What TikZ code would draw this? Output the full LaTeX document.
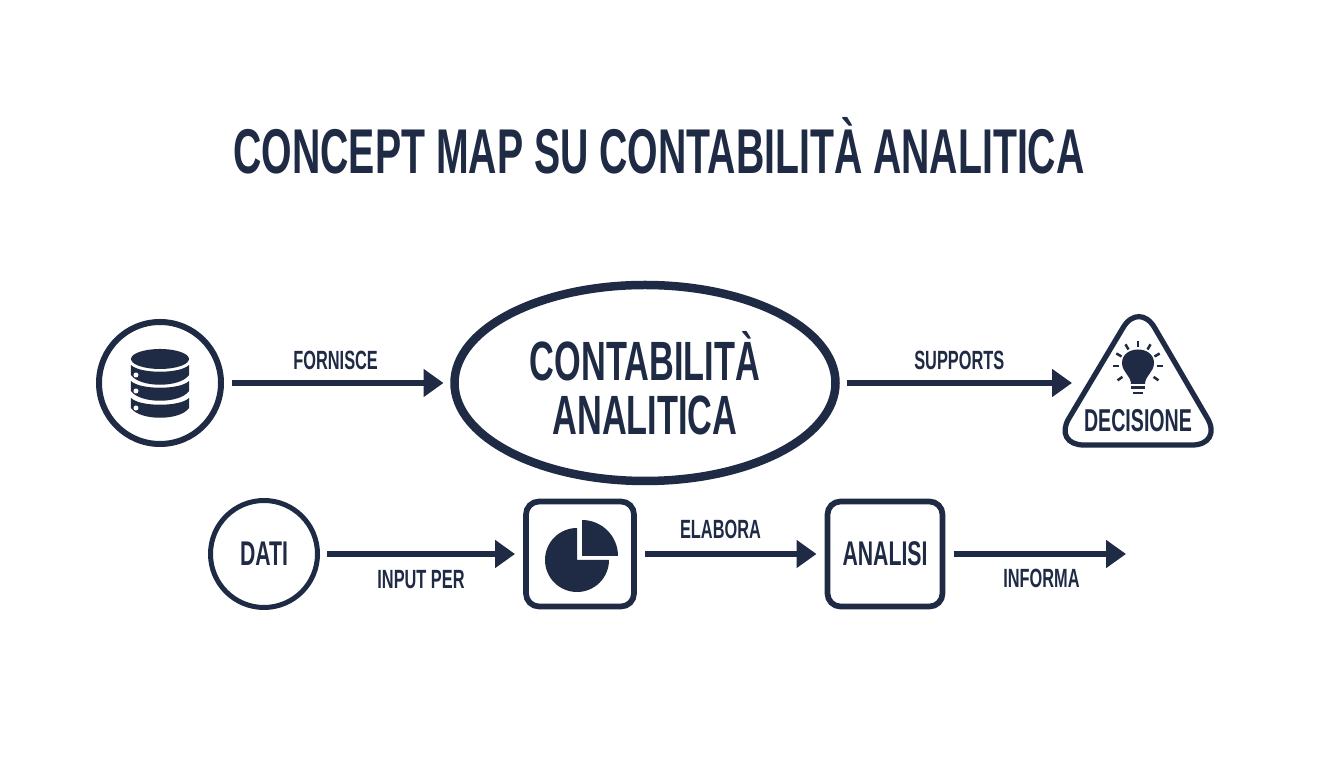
\documentclass[tikz,border=0pt]{standalone}
\usepackage{fontspec}
\usetikzlibrary{arrows.meta,shapes.geometric}
\newfontfamily\condfont[FakeStretch=0.62]{Liberation Sans Bold}
\definecolor{navy}{RGB}{31,42,68}
\tikzset{
  conn/.style={draw=navy,line width=0.115cm,-{Triangle[length=0.4cm,width=0.54cm]}},
  edgelabel/.style={text=navy,font=\condfont\fontsize{15}{17}\selectfont,inner sep=0pt},
  ring/.style={circle,draw=navy,text=navy,font=\condfont\fontsize{19.5}{22}\selectfont},
  tile/.style={rectangle,rounded corners=0.26cm,draw=navy,line width=0.115cm,text=navy,
    font=\condfont\fontsize{19.5}{22}\selectfont,inner sep=0pt},
  icon/.style={fill=navy,draw=none},
}
\begin{document}
\begin{tikzpicture}
  \useasboundingbox (0,0) rectangle (26.88,15.36);

  % Title
  \node (title) at (13.18,12.44) [text=navy,font=\condfont\fontsize{36}{38}\selectfont] {CONCEPT MAP SU CONTABILITÀ ANALITICA};

  % Top row
  \node (db) at (3.20,7.70) [ring,line width=0.12cm,minimum size=2.44cm,outer sep=0.22cm] {};
  \node (main) at (12.90,7.70) [ellipse,draw=navy,line width=0.17cm,minimum width=7.62cm,minimum height=3.92cm,
    inner sep=0pt,outer sep=0.22cm,align=center,text=navy,font=\condfont\fontsize{31.5}{30.5}\selectfont] {CONTABILITÀ\\ANALITICA};
  \node (decision) at (22.76,7.70) [minimum width=2.64cm,minimum height=2.68cm,inner sep=0pt,outer sep=0pt] {};
  \node (decisionlabel) at (22.76,6.94) [text=navy,font=\condfont\fontsize{18}{20}\selectfont,inner sep=0pt] {DECISIONE};

  % Bottom row
  \node (dati) at (5.28,4.28) [ring,line width=0.10cm,minimum size=2.14cm,outer sep=0.19cm] {DATI};
  \node (pie) at (11.60,4.28) [tile,minimum width=2.16cm,minimum height=2.10cm,outer sep=0.22cm] {};
  \node (analisi) at (17.70,4.28) [tile,minimum width=2.30cm,minimum height=2.10cm,outer sep=0.22cm] {ANALISI};
  \coordinate (end) at (22.52,4.28);

  % Connectors
  \draw [conn] (db) -- node [pos=0.49,edgelabel,above=0.2cm] {FORNISCE} (main);
  \draw [conn] (main) -- node [edgelabel,above=0.2cm] {SUPPORTS} (decision);
  \draw [conn] (dati) -- node [edgelabel,below=0.26cm] {INPUT PER} (pie);
  \draw [conn] (pie) -- node [pos=0.44,edgelabel,above=0.24cm] {ELABORA} (analisi);
  \draw [conn] (analisi) -- node [pos=0.51,edgelabel,below=0.24cm] {INFORMA} (end);

  % Drawing database icon
  \begin{scope}[shift={(db.center)},scale=0.02]
    \fill [icon] (0,24) ellipse [x radius=29,y radius=10];
    \foreach \ytop in {18,2,-15} {
      \fill [icon] (-29,\ytop) .. controls (-20,\ytop-9) and (20,\ytop-9) .. (29,\ytop)
        -- (29,\ytop-10) .. controls (20,\ytop-23) and (-20,\ytop-23) .. (-29,\ytop-10) -- cycle;
      \fill [white] (-24,\ytop-10) circle [radius=2.5];
    }
  \end{scope}

  % Drawing triangle and bulb
  \begin{scope}[shift={(decision.center)},scale=0.02]
    \draw [draw=navy,line width=0.105cm,rounded corners=0.62cm] (1,82) -- (-85,-62) -- (85,-62) -- cycle;
    \begin{scope}[shift={(0,17)}]
      \fill [icon] (-7,-18) .. controls (-7,-10) and (-16,-6) .. (-16,3)
        .. controls (-16,21) and (16,21) .. (16,3)
        .. controls (16,-6) and (7,-10) .. (7,-18) -- cycle;
      \fill [icon] (-7,-20.5) rectangle (7,-23.5);
      \fill [icon] (-5,-26) rectangle (5,-28.5);
      \foreach \ang in {90,60,30,0,-35,120,150,180,215}
        \draw [navy,line width=0.05cm] (\ang:19) -- (\ang:25);
    \end{scope}
  \end{scope}

  % Drawing pie icon
  \begin{scope}[shift={(pie.center)},scale=0.02]
    \fill [icon] (-3,-6) -- (-3,26) arc [start angle=90,end angle=360,radius=32] -- cycle;
    \fill [icon] (2,-2) -- (2,34) arc [start angle=90,end angle=0,radius=36] -- cycle;
  \end{scope}
\end{tikzpicture}
\end{document}
